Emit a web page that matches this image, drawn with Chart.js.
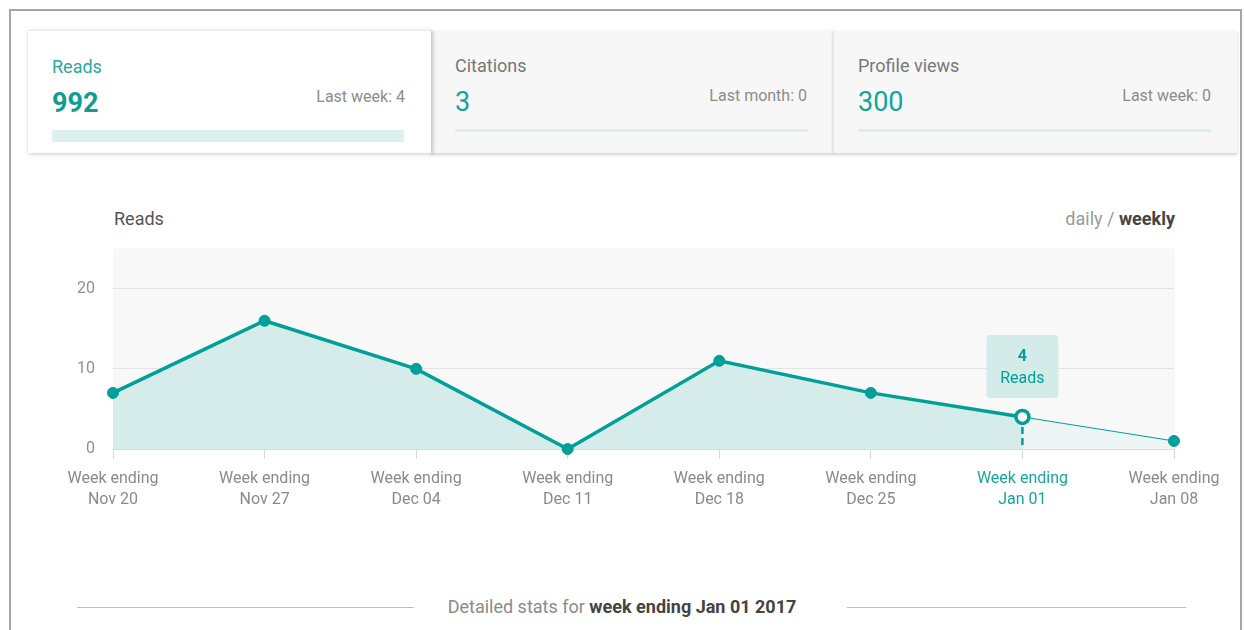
<!DOCTYPE html>
<html>
<head>
<meta charset="utf-8">
<script src="https://cdn.jsdelivr.net/npm/chart.js@4"></script>
<style>
  body { margin: 0; width: 1244px; height: 630px; overflow: hidden; background: #fff; font-family: Roboto, "Noto Sans", sans-serif; position: relative; }
  .frame { position: absolute; left: 9px; top: 9px; width: 1229px; height: 700px; border: 2px solid #a6a6a6; border-bottom: none; }
  .tab { position: absolute; top: 30px; height: 123px; box-sizing: border-box; }
  .tab1 { left: 27px; width: 404px; background: #fff; border-top: 1px solid #ececec; border-left: 1px solid #ececec; box-shadow: 2px 1px 4px rgba(0,0,0,0.22); z-index: 2; }
  .tab2 { left: 431px; width: 402px; background: #f7f7f7; box-shadow: 0 2px 3px rgba(0,0,0,0.18); }
  .tab3 { left: 833px; width: 404px; background: #f7f7f7; border-left: 1px solid #e6e6e6; box-shadow: 0 2px 3px rgba(0,0,0,0.18); }
  .tab .lbl { position: absolute; left: 24px; top: 25px; font-size: 18px; color: #777; }
  .tab1 .lbl { color: #2aa9a1; }
  .tab .num { position: absolute; left: 24px; top: 56px; font-size: 27px; color: #14a49b; }
  .tab1 .num { font-weight: bold; color: #109c93; }
  .tab .last { position: absolute; right: 26px; top: 56px; font-size: 16px; color: #8c8c8c; }
  .tab .bar { position: absolute; left: 24px; top: 99px; width: 353px; height: 3px; background: #dcefed; }
  .tab1 .bar { top: 99px; height: 12px; width: 352px; background: #ddefee; }
  .title { position: absolute; left: 114px; top: 208px; font-size: 18px; color: #555; }
  .switch { position: absolute; right: 69px; top: 208px; font-size: 18px; color: #999; }
  .switch b { color: #444; }
  .chartbox { position: absolute; left: 40px; top: 221px; width: 1200px; height: 305px; }
  .detail { position: absolute; left: 0; width: 1244px; top: 596px; text-align: center; font-size: 18px; color: #8a8a8a; }
  .detail b { color: #444; }
  .rule { position: absolute; top: 607px; height: 1px; background: #bdbdbd; }
</style>
</head>
<body>
<div class="frame"></div>

<div class="tab tab1">
  <div class="lbl">Reads</div>
  <div class="num">992</div>
  <div class="last">Last week: 4</div>
  <div class="bar"></div>
</div>
<div class="tab tab2">
  <div class="lbl">Citations</div>
  <div class="num">3</div>
  <div class="last">Last month: 0</div>
  <div class="bar"></div>
</div>
<div class="tab tab3">
  <div class="lbl">Profile views</div>
  <div class="num">300</div>
  <div class="last">Last week: 0</div>
  <div class="bar"></div>
</div>

<div class="title">Reads</div>
<div class="switch">daily / <b>weekly</b></div>

<div class="chartbox"><canvas id="graficoReads"></canvas></div>

<div class="rule" style="left:77px;width:337px"></div>
<div class="detail">Detailed stats for <b>week ending Jan 01 2017</b></div>
<div class="rule" style="left:847px;width:339px"></div>

<script>
const semanas = [
  ["Week ending", "Nov 20"],
  ["Week ending", "Nov 27"],
  ["Week ending", "Dec 04"],
  ["Week ending", "Dec 11"],
  ["Week ending", "Dec 18"],
  ["Week ending", "Dec 25"],
  ["Week ending", "Jan 01"],
  ["Week ending", "Jan 08"],
];
const leituras = [7, 16, 10, 0, 11, 7, 4, 1];
const ticksY = [0, 10, 20];
const maxY = 25;
const selecionado = 6;

const teal = "#009f97";
const cinza = "#8a8a8a";

// fundo cinza claro da area do grafico
const fundo = {
  id: "fundo",
  beforeDraw(chart) {
    const { ctx, chartArea } = chart;
    ctx.save();
    ctx.fillStyle = "#f8f8f8";
    ctx.fillRect(chartArea.left, chartArea.top, chartArea.width + 1, chartArea.height);
    ctx.restore();
  },
};

// linha tracejada e caixa do ponto selecionado
const destaque = {
  id: "destaque",
  afterDatasetsDraw(chart) {
    const { ctx, chartArea } = chart;
    const p = chart.getDatasetMeta(0).data[selecionado];
    ctx.save();
    ctx.strokeStyle = teal;
    ctx.lineWidth = 2.5;
    ctx.setLineDash([7, 4]);
    ctx.beginPath();
    ctx.moveTo(p.x, p.y + 10);
    ctx.lineTo(p.x, chartArea.bottom);
    ctx.stroke();
    ctx.setLineDash([]);

    const w = 72, h = 63;
    const x = p.x - w / 2, y = p.y - 19 - h;
    ctx.fillStyle = "#d3ecea";
    ctx.beginPath();
    ctx.roundRect(x, y, w, h, 4);
    ctx.fill();
    ctx.fillStyle = teal;
    ctx.textAlign = "center";
    ctx.textBaseline = "middle";
    ctx.font = "bold 16px Roboto";
    ctx.fillText(String(leituras[selecionado]), p.x, y + 22);
    ctx.font = "16px Roboto";
    ctx.fillText("Reads", p.x, y + 44);
    ctx.restore();
  },
};

const grafico = new Chart(document.getElementById("graficoReads"), {
  type: "line",
  data: {
    labels: semanas,
    datasets: [
      {
        label: "Reads",
        data: leituras,
        clip: false,
        borderColor: teal,
        borderWidth: 3.5,
        fill: "origin",
        backgroundColor: "#d6ecea",
        tension: 0,
        segment: {
          borderWidth: (ctx) => (ctx.p0DataIndex >= selecionado ? 1 : 3.5),
          backgroundColor: (ctx) => (ctx.p0DataIndex >= selecionado ? "#eef5f5" : "#d6ecea"),
        },
        pointRadius: (ctx) => (ctx.dataIndex === selecionado ? 6.5 : 5.5),
        pointBorderWidth: (ctx) => (ctx.dataIndex === selecionado ? 3.5 : 1),
        pointBackgroundColor: (ctx) => (ctx.dataIndex === selecionado ? "#fff" : teal),
        pointBorderColor: teal,
      },
    ],
  },
  options: {
    responsive: true,
    maintainAspectRatio: false,
    animation: false,
    layout: { padding: { left: 0, right: 66, top: 10, bottom: 0 } },
    plugins: { legend: { display: false }, tooltip: { enabled: false } },
    scales: {
      x: {
        offset: false,
        grid: { display: true, drawOnChartArea: false, drawTicks: true, tickLength: 10, color: "#d8d8d8" },
        border: { display: true, color: "#dcdcdc" },
        ticks: {
          autoSkip: false,
          maxRotation: 0,
          padding: 10,
          font: { family: "Roboto", size: 16, lineHeight: 1.3 },
          color: (ctx) => (ctx.index === selecionado ? "#1aa59d" : cinza),
        },
        afterFit: (scale) => { scale.height = 77; },
      },
      y: {
        min: 0,
        max: maxY,
        ticks: {
          stepSize: 10,
          padding: 18,
          font: { family: "Roboto", size: 16 },
          color: "#919191",
        },
        afterBuildTicks: (scale) => {
          scale.ticks = ticksY.map((v) => ({ value: v }));
        },
        grid: { color: "#e3e3e3", drawTicks: false },
        border: { display: false },
        afterFit: (scale) => { scale.width = 73; },
      },
    },
  },
  plugins: [fundo, destaque],
});
</script>
</body>
</html>
